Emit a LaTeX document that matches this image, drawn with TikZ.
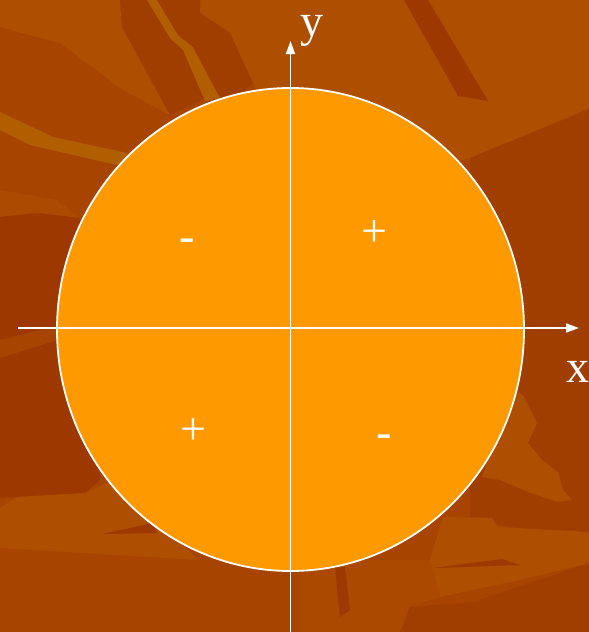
\documentclass[tikz,border=0pt]{standalone}
\usepackage{fontspec}
\setmainfont{Liberation Serif}
\usetikzlibrary{arrows.meta}
\definecolor{bgbase}{HTML}{A74500}
\definecolor{bgdark}{HTML}{9C3800}
\definecolor{bgmid}{HTML}{A03E00}
\definecolor{bglight}{HTML}{AE4E00}
\definecolor{bgyel}{HTML}{B05E00}
\definecolor{disk}{HTML}{FF9900}
\tikzset{
  axis/.style={draw=white, line width=1.8pt, -{Triangle[length=13pt,width=9pt]}},
  sign/.style={text=white, font=\fontsize{46}{50}\selectfont, inner sep=0pt, anchor=base},
  axlabel/.style={text=white, font=\fontsize{46}{50}\selectfont, inner sep=0pt, anchor=base},
}
\begin{document}
\begin{tikzpicture}[x=1pt,y=-1pt]
\useasboundingbox (0,0) rectangle (589,632);
% background
\fill[bgbase] (0,0) rectangle (589,632);
\fill[bglight] (200,0) -- (589,0) -- (589,109) -- (470,158) -- (300,200) -- (253,83) -- (230,33) -- (200,13) -- cycle;
\fill[bglight] (0,0) -- (120,0) -- (122,27) -- (170,115) -- (123,90) -- (60,43) -- (0,27) -- cycle;
\fill[bgmid] (120,0) -- (147,0) -- (173,37) -- (190,47) -- (218,98) -- (202,100) -- (170,115) -- (122,27) -- cycle;
\fill[bgyel] (147,0) -- (157,0) -- (178,35) -- (193,47) -- (220,98) -- (205,101) -- (183,50) -- (170,38) -- cycle;
\fill[bgmid] (157,0) -- (200,0) -- (200,13) -- (230,33) -- (253,83) -- (240,95) -- (220,98) -- (193,47) -- (178,35) -- cycle;
\fill[bgdark] (404,0) -- (428,0) -- (488,101) -- (458,96) -- cycle;
\fill[bgmid] (470,158) -- (589,109) -- (589,540) -- (470,520) -- cycle;
\fill[bgyel] (0,112) -- (53,137) -- (127,153) -- (127,160) -- (117,165) -- (30,145) -- (0,130) -- cycle;
\fill[bglight!60!bgbase] (0,190) -- (57,200) -- (80,218) -- (37,213) -- (0,217) -- cycle;
\fill[bgdark] (0,217) -- (37,213) -- (80,218) -- (100,300) -- (100,480) -- (85,493) -- (17,497) -- (0,498) -- cycle;
\fill[bgbase] (0,340) -- (57,326) -- (57,340) -- (0,358) -- cycle;
\fill[bglight] (0,508) -- (17,497) -- (85,493) -- (113,480) -- (150,520) -- (200,560) -- (0,548) -- cycle;
\fill[bgdark] (102,534) -- (153,523) -- (157,533) -- cycle;
\fill[bglight] (513,390) -- (523,395) -- (537,423) -- (528,443) -- (542,460) -- (558,472) -- (563,490) -- (572,500) -- (558,502) -- (528,492) -- (500,480) -- (482,477) -- cycle;
\fill[bglight] (443,517) -- (492,518) -- (498,527) -- (589,532) -- (589,563) -- (533,577) -- (440,597) -- (430,560) -- cycle;
\fill[bgdark] (433,568) -- (502,559) -- (520,565) -- cycle;
\fill[bglight!50!bgbase] (300,560) -- (430,560) -- (440,597) -- (410,607) -- (400,632) -- (300,632) -- cycle;
\fill[bgdark] (335,567) -- (345,567) -- (350,610) -- (340,617) -- cycle;
\fill[bgmid] (400,632) -- (410,607) -- (473,602) -- (589,563) -- (589,632) -- cycle;
% disk
\filldraw[fill=disk, draw=white, line width=1.8pt] (290.5,329.5) ellipse [x radius=233.5, y radius=241.5];
% axes
\coordinate (xs) at (18,328);
\coordinate (xe) at (579,328);
\coordinate (ys) at (290.5,632);
\coordinate (ye) at (290.5,41);
\draw[axis] (xs) -- (xe);
\draw[axis] (ys) -- (ye);
% labels
\node[axlabel] (ylab) at (312,36) {y};
\node[axlabel] (xlab) at (578,382) {x};
\node[sign] (s1) at (187,251) {-};
\node[sign] (s2) at (374,246.5) {+};
\node[sign] (s3) at (193,444) {+};
\node[sign] (s4) at (384,447) {-};
\end{tikzpicture}
\end{document}
